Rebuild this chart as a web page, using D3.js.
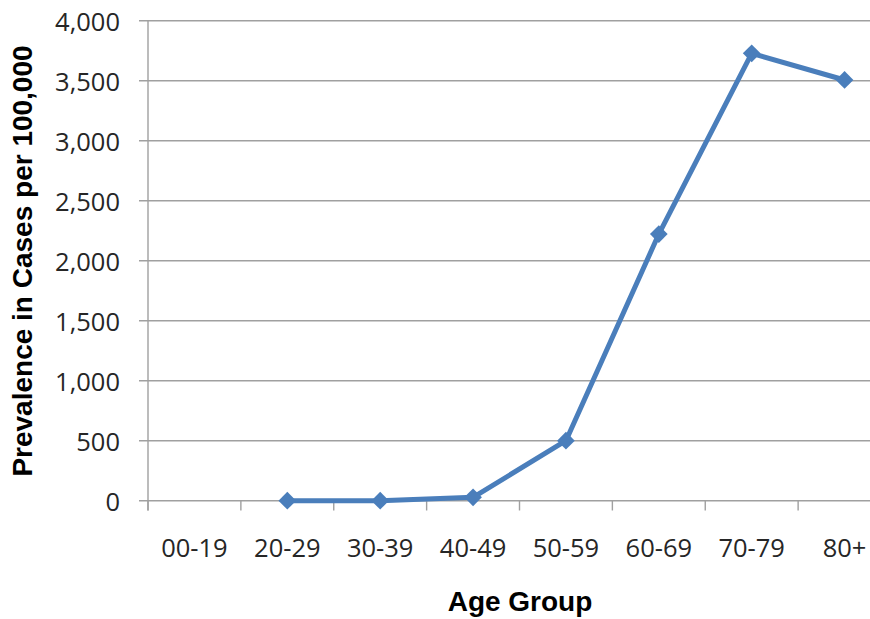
<!DOCTYPE html>
<html><head><meta charset="utf-8">
<script src="https://cdn.jsdelivr.net/npm/d3@7"></script>
<style>body{margin:0;background:#fff;} svg{display:block;}</style>
</head><body>
<svg id="chart" width="870" height="619"></svg>
<script>
const categories = ["00-19","20-29","30-39","40-49","50-59","60-69","70-79","80+"];
const prevalence = [null, 0, 0, 28, 500, 2222, 3728, 3506];
const yTicks = [0, 500, 1000, 1500, 2000, 2500, 3000, 3500, 4000];
const xTitle = "Age Group";
const yTitle = "Prevalence in Cases per 100,000";

const svg = d3.select("#chart");
const x = d3.scaleBand().domain(categories).range([148, 891]);
const y = d3.scaleLinear().domain([0, 4000]).range([500.7, 20.7]);
const gridColor = "#a0a0a0";

// gridlines
svg.append("g").selectAll("line").data(yTicks).join("line")
  .attr("x1", 139).attr("x2", 891)
  .attr("y1", d => y(d)).attr("y2", d => y(d))
  .attr("stroke", gridColor).attr("stroke-width", 1.4);

// y axis line
svg.append("line").attr("x1", 148).attr("x2", 148)
  .attr("y1", y(4000)).attr("y2", 510.5)
  .attr("stroke", gridColor).attr("stroke-width", 1.4);

// x ticks
const bounds = categories.map(c => x(c)).concat([x.range()[1]]);
svg.append("g").selectAll("line").data(bounds).join("line")
  .attr("x1", d => d).attr("x2", d => d)
  .attr("y1", y(0)).attr("y2", 510.5)
  .attr("stroke", gridColor).attr("stroke-width", 1.4);

// y tick labels
const fmt = d3.format(",");
svg.append("g").selectAll("text").data(yTicks).join("text")
  .attr("x", 120).attr("y", d => y(d))
  .attr("text-anchor", "end").attr("dominant-baseline", "central")
  .attr("font-family", "'Open Sans', sans-serif").attr("font-size", 25.5)
  .attr("fill", "#262626")
  .text(d => fmt(d));

// x tick labels
svg.append("g").selectAll("text").data(categories).join("text")
  .attr("x", d => x(d) + x.bandwidth() / 2).attr("y", 547)
  .attr("text-anchor", "middle").attr("dominant-baseline", "central")
  .attr("font-family", "'Open Sans', sans-serif").attr("font-size", 25.5)
  .attr("fill", "#262626")
  .text(d => d);

// line
const pts = categories.map((c, i) => ({c, v: prevalence[i]}));
const line = d3.line()
  .defined(d => d.v !== null)
  .x(d => x(d.c) + x.bandwidth() / 2)
  .y(d => y(d.v));
svg.append("path").datum(pts)
  .attr("d", line).attr("fill", "none")
  .attr("stroke", "#4a7ebb").attr("stroke-width", 5)
  .attr("stroke-linejoin", "round");

// markers
const diamond = d3.symbol().type(d3.symbolDiamond2).size(200);
svg.append("g").selectAll("path").data(pts.filter(d => d.v !== null)).join("path")
  .attr("d", diamond)
  .attr("transform", d => `translate(${x(d.c) + x.bandwidth() / 2},${y(d.v)})`)
  .attr("fill", "#4a7ebb");

// axis titles
svg.append("text").attr("x", 520).attr("y", 611)
  .attr("text-anchor", "middle")
  .attr("font-family", "'Liberation Sans', Arial, sans-serif")
  .attr("font-weight", "bold").attr("font-size", 28)
  .attr("fill", "#000").text(xTitle);

svg.append("text")
  .attr("transform", "translate(32,261) rotate(-90)")
  .attr("text-anchor", "middle")
  .attr("font-family", "'Liberation Sans', Arial, sans-serif")
  .attr("font-weight", "bold").attr("font-size", 28)
  .attr("fill", "#000").text(yTitle);
</script>
</body></html>
